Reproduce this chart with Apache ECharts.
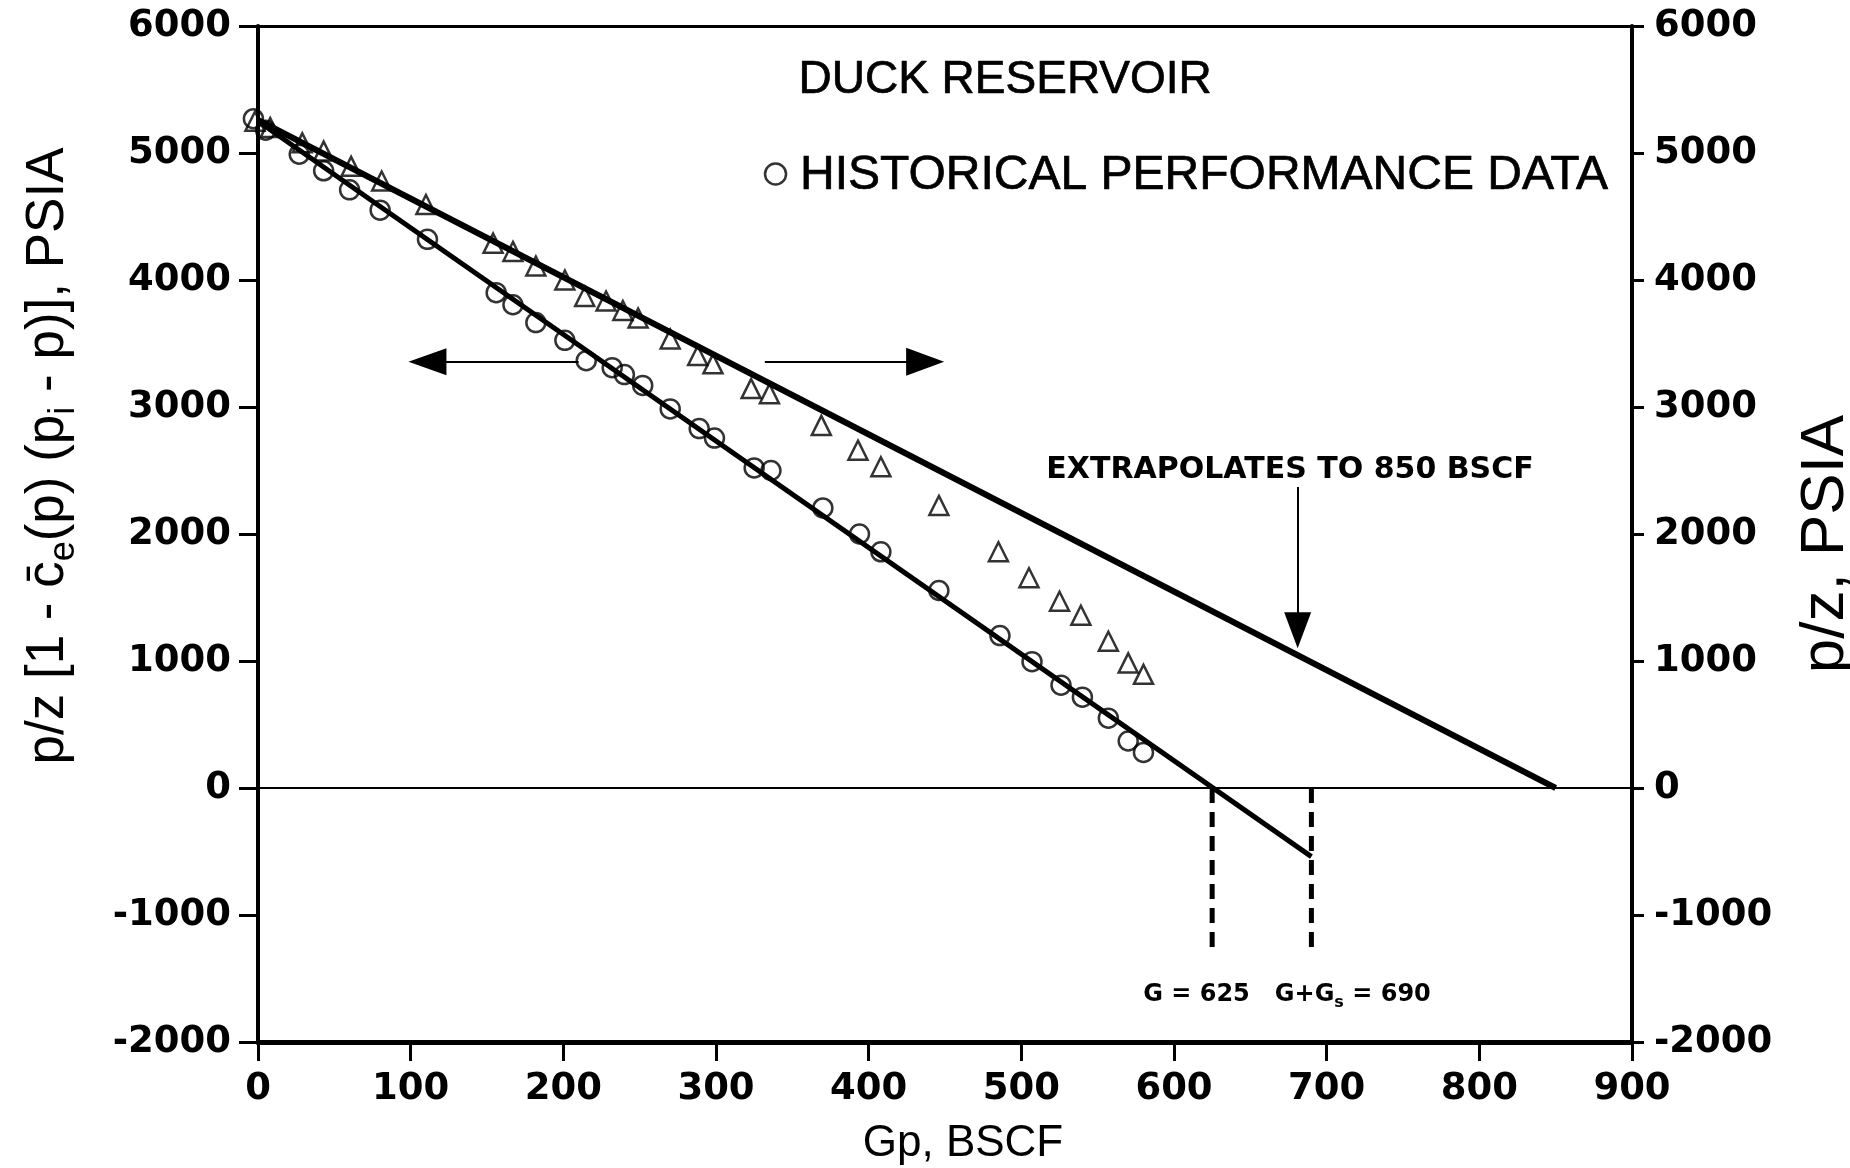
<!DOCTYPE html>
<html>
<head>
<meta charset="utf-8">
<script src="https://cdn.jsdelivr.net/npm/echarts@6/dist/echarts.min.js"></script>
<style>
html,body{margin:0;padding:0;background:#fff;}
#chart{width:1850px;height:1168px;}
</style>
</head>
<body>
<div id="chart"></div>
<script>
// ---------- data ----------
const xTicks = [0, 100, 200, 300, 400, 500, 600, 700, 800, 900];
const yTicks = [-2000, -1000, 0, 1000, 2000, 3000, 4000, 5000, 6000];

// circles: p/z [1 - ce(p)(pi - p)] (left axis)
const gpCircles = [-3, 5, 27, 43, 60, 80, 111, 156, 167, 182, 201, 215, 232, 240, 252, 270, 289, 299, 325, 336, 370, 394, 408, 446, 486, 507, 526, 540, 557, 570, 580];
const pzCorrected = [5270, 5180, 4990, 4860, 4710, 4550, 4320, 3900, 3805, 3665, 3525, 3365, 3310, 3255, 3170, 2985, 2830, 2755, 2520, 2500, 2205, 2000, 1860, 1555, 1200, 995, 810, 715, 550, 370, 280];

// triangles: p/z (right axis)
const gpTriangles = [-2, 8, 29, 43, 61, 81, 110, 154, 167, 182, 201, 214, 228, 239, 249, 270, 288, 298, 323, 335, 369, 393, 408, 446, 485, 505, 525, 539, 557, 570, 580];
const pzPlain = [5250, 5200, 5080, 5015, 4895, 4780, 4595, 4290, 4225, 4110, 4000, 3870, 3835, 3760, 3700, 3535, 3405, 3340, 3145, 3105, 2855, 2660, 2530, 2225, 1860, 1655, 1470, 1360, 1155, 985, 895];

// straight-line fits
const fitCorrectedGp = [0, 690];
const fitCorrectedVal = [5250, -540];
const fitPlainGp = [0, 850];
const fitPlainVal = [5260, 0];

// dashed markers for G and G+Gs
const dashGp = [625, 690];
const dashVal = [0, -1300];

// arrows: [x1, y1, x2, y2] (data units, second point = head)
const arrowLeft = [210, 3357, 111, 3357];
const arrowRight = [332, 3357, 437, 3357];
const arrowDown = [681, 2371, 681, 1242];

// annotation texts
const titleText = 'DUCK RESERVOIR';
const titleAt = [354, 5575];
const legendText = 'HISTORICAL PERFORMANCE DATA';
const legendSymbolAt = [339, 4835];
const legendTextAt = [355, 4820];
const extrapText = 'EXTRAPOLATES TO 850 BSCF';
const extrapAt = [676, 2500];
const gText = 'G = 625   G+G{s|s} = 690';
const gAt = [674, -1625];

// ---------- chart ----------
const chart = echarts.init(document.getElementById('chart'), null, {renderer: 'canvas'});

const tickFont = {fontFamily: 'DejaVu Sans', fontWeight: 'bold', fontSize: 37, color: '#000'};

function pairs(xs, ys) { return xs.map((x, i) => [x, ys[i]]); }

const series = [];

// zero line + fitted lines
series.push({
  name: 'fitCorrected', type: 'line', xAxisIndex: 0, yAxisIndex: 0,
  data: pairs(fitCorrectedGp, fitCorrectedVal),
  symbol: 'none', lineStyle: {color: '#000', width: 5}, silent: true, z: 3,
  markLine: {
    silent: true, symbol: 'none', animation: false,
    lineStyle: {color: '#000', width: 2, type: 'solid'},
    label: {show: false},
    data: [{yAxis: 0}]
  }
});
series.push({
  name: 'fitPlain', type: 'line', xAxisIndex: 0, yAxisIndex: 1,
  data: pairs(fitPlainGp, fitPlainVal),
  symbol: 'none', lineStyle: {color: '#000', width: 6}, silent: true, z: 3
});

// dashed verticals
dashGp.forEach((g, i) => {
  series.push({
    name: 'dash' + i, type: 'line', xAxisIndex: 0, yAxisIndex: 0,
    data: dashVal.map(v => [g, v]),
    symbol: 'none', lineStyle: {color: '#000', width: 5, type: [15, 9]}, silent: true, z: 3
  });
});

// arrows
function arrowSeries(a, size) {
  return {
    type: 'line', xAxisIndex: 0, yAxisIndex: 0, data: [], silent: true,
    markLine: {
      silent: true, animation: false,
      symbol: ['none', 'triangle'], symbolSize: size,
      lineStyle: {color: '#000', width: 2, type: 'solid'},
      itemStyle: {color: '#000'},
      label: {show: false},
      data: [[{coord: [a[0], a[1]]}, {coord: [a[2], a[3]]}]]
    }
  };
}
series.push(arrowSeries(arrowLeft, [27, 38]));
series.push(arrowSeries(arrowRight, [28, 38]));
series.push(arrowSeries(arrowDown, [27, 36]));

// data points
series.push({
  name: 'circles', type: 'scatter', xAxisIndex: 0, yAxisIndex: 0, clip: false,
  data: pairs(gpCircles, pzCorrected),
  symbol: 'circle', symbolSize: 19,
  itemStyle: {color: 'rgba(0,0,0,0)', borderColor: '#000', borderWidth: 2.5}, z: 5
});
series.push({
  name: 'triangles', type: 'scatter', xAxisIndex: 0, yAxisIndex: 1, clip: false,
  data: pairs(gpTriangles, pzPlain),
  symbol: 'triangle', symbolSize: 19,
  itemStyle: {color: 'rgba(0,0,0,0)', borderColor: '#000', borderWidth: 2.5}, z: 5
});

// legend symbol
series.push({
  name: 'legendSymbol', type: 'scatter', xAxisIndex: 0, yAxisIndex: 0, silent: true,
  data: [legendSymbolAt], symbol: 'circle', symbolSize: 21,
  itemStyle: {color: 'rgba(0,0,0,0)', borderColor: '#000', borderWidth: 2.5}
});

// text annotations
function textSeries(at, text, pos, style) {
  return {
    type: 'scatter', xAxisIndex: 0, yAxisIndex: 0, silent: true, clip: false,
    data: [at], symbol: 'rect', symbolSize: 0.1,
    itemStyle: {color: '#000', opacity: 1},
    label: Object.assign({show: true, position: pos, distance: 0, formatter: text,
      color: '#000', opacity: 1}, style),
    z: 6
  };
}
series.push(textSeries(titleAt, titleText, 'right',
  {fontFamily: 'Liberation Sans', fontSize: 46, textBorderColor: '#000', textBorderWidth: 0.7}));
series.push(textSeries(legendTextAt, legendText, 'right',
  {fontFamily: 'Liberation Sans', fontSize: 48, textBorderColor: '#000', textBorderWidth: 0.7}));
series.push(textSeries(extrapAt, extrapText, 'inside',
  {fontFamily: 'DejaVu Sans', fontWeight: 'bold', fontSize: 30}));
series.push(textSeries(gAt, gText, 'inside', {
  fontFamily: 'DejaVu Sans', fontWeight: 'bold', fontSize: 24,
  rich: {s: {fontFamily: 'DejaVu Sans', fontWeight: 'bold', fontSize: 16, padding: [16, 0, 0, 0], color: '#000'}}
}));

const option = {
  animation: false,
  backgroundColor: '#fff',
  grid: {left: 258, right: 218, top: 26, bottom: 126, containLabel: false, outerBoundsMode: 'none'},
  xAxis: [{
    type: 'value', position: 'bottom',
    min: xTicks[0], max: xTicks[xTicks.length - 1], interval: xTicks[1] - xTicks[0],
    name: 'Gp, BSCF', nameLocation: 'middle', nameGap: 80,
    nameTextStyle: {fontFamily: 'Liberation Sans', fontSize: 44, color: '#000',
      padding: [0, 0, 0, 36]},
    axisLine: {show: true, onZero: false, lineStyle: {color: '#000', width: 5}},
    axisTick: {show: true, inside: false, length: 19, lineStyle: {color: '#000', width: 3}},
    axisLabel: Object.assign({margin: 29, formatter: v => String(v)}, tickFont),
    splitLine: {show: false}
  }, {
    type: 'value', position: 'top',
    min: xTicks[0], max: xTicks[xTicks.length - 1], interval: xTicks[1] - xTicks[0],
    axisLine: {show: true, onZero: false, lineStyle: {color: '#000', width: 3}},
    axisTick: {show: false}, axisLabel: {show: false}, splitLine: {show: false}
  }],
  yAxis: [{
    type: 'value', position: 'left',
    min: yTicks[0], max: yTicks[yTicks.length - 1], interval: yTicks[1] - yTicks[0],
    axisLine: {show: true, onZero: false, lineStyle: {color: '#000', width: 4}},
    axisTick: {show: true, inside: false, length: 19, lineStyle: {color: '#000', width: 3}},
    axisLabel: Object.assign({margin: 27, formatter: v => String(v)}, tickFont),
    splitLine: {show: false}
  }, {
    type: 'value', position: 'right',
    min: yTicks[0], max: yTicks[yTicks.length - 1], interval: yTicks[1] - yTicks[0],
    name: 'p/z, PSIA', nameLocation: 'middle', nameRotate: 90, nameGap: 163,
    nameTextStyle: {fontFamily: 'Liberation Sans', fontSize: 62, color: '#000', padding: [0, 20, 0, 0]},
    axisLine: {show: true, onZero: false, lineStyle: {color: '#000', width: 4}},
    axisTick: {show: true, inside: false, length: 12, lineStyle: {color: '#000', width: 3}},
    axisLabel: Object.assign({margin: 22, formatter: v => String(v)}, tickFont),
    splitLine: {show: false}
  }],
  graphic: [{
    type: 'text', x: 48, y: 456, rotation: Math.PI / 2, silent: true,
    style: {
      text: 'p/z [1 - c\u0304{sub|e}(p) (p{sub|i} - p)], PSIA',
      fontFamily: 'Liberation Sans', fontSize: 53, fill: '#000',
      align: 'center', verticalAlign: 'middle',
      rich: {sub: {fontFamily: 'Liberation Sans', fontSize: 36, fill: '#000', padding: [32, 0, 0, 0]}}
    }
  }],
  series: series
};
chart.setOption(option);
</script>
</body>
</html>
